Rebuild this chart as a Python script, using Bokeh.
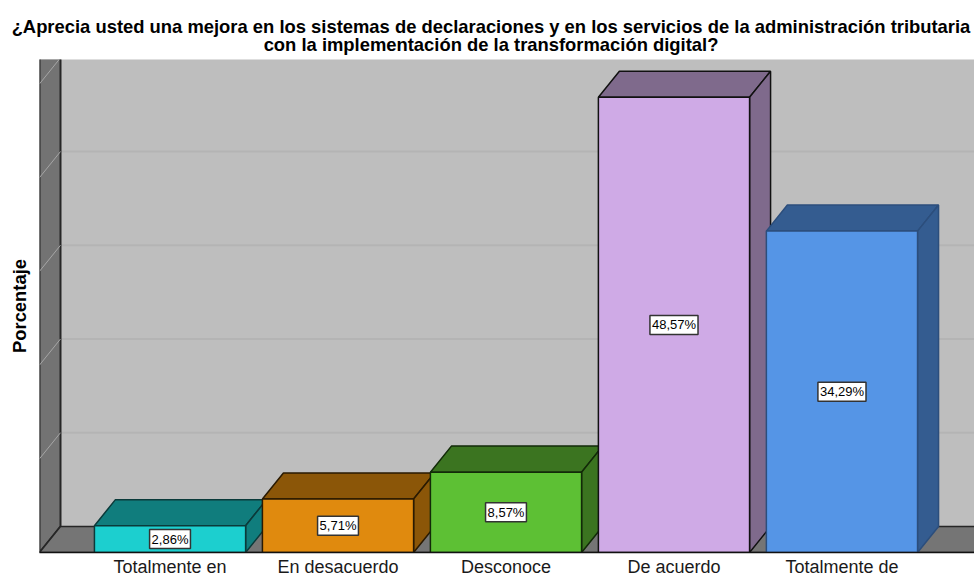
from bokeh.plotting import figure
from bokeh.models import Range1d, Div, FixedTicker
from bokeh.layouts import column
from bokeh.core.properties import value
from bokeh.embed import file_html
from bokeh.resources import INLINE

title_line1 = "¿Aprecia usted una mejora en los sistemas de declaraciones y en los servicios de la administración tributaria"
title_line2 = "con la implementación de la transformación digital?"
y_label = "Porcentaje"
categories = ["Totalmente en", "En desacuerdo", "Desconoce", "De acuerdo", "Totalmente de"]
values = [2.86, 5.71, 8.57, 48.57, 34.29]
labels = ["2,86%", "5,71%", "8,57%", "48,57%", "34,29%"]
front_colors = ["#1CCFCF", "#E08A0E", "#5DC034", "#CFAAE6", "#5595E6"]
dark_colors = ["#107D7D", "#8B5608", "#3B7420", "#7F6A8C", "#345C90"]
edge_colors = ["#0B3A3A", "#2A1A02", "#122A08", "#111111", "#2C4E7C"]
grid_values = [10, 20, 30, 40, 50]

# depth of the 3D effect, category units / percent units
dx = 0.125
dy = 2.78
half = 0.45
x_min, x_max = -0.777, 4.789
y_min, y_max = 0.0, 52.6
wall_x = x_min + dx

title = Div(text=f'<div style="margin-left:8px;width:966px;padding-top:18px;text-align:center;'
                 f'font-family:\'Liberation Sans\';font-size:18.4px;font-weight:bold;line-height:17.5px;'
                 f'color:black;white-space:nowrap">{title_line1}<br>{title_line2}</div>',
            width=974, height=59, margin=(0, 0, 0, 0))

p = figure(width=974, height=520, output_backend="svg", toolbar_location=None,
           x_range=Range1d(x_min, x_max), y_range=Range1d(y_min, y_max),
           min_border_left=39, min_border_right=0, min_border_top=0, min_border_bottom=27,
           background_fill_color="#BEBEBE", border_fill_color="white", outline_line_color=None,
           margin=(0, 0, 0, 0))
p.grid.visible = False

# back-wall grid lines
p.segment(x0=[wall_x] * 5, x1=[x_max] * 5, y0=[g + dy for g in grid_values], y1=[g + dy for g in grid_values],
          line_color="#B4B4B4", line_width=2)

# left wall
p.patch(x=[x_min, wall_x, wall_x, x_min], y=[0, dy, y_max + dy, y_max + dy],
        fill_color="#737373", line_color="#262626", line_width=2)
p.segment(x0=[x_min] * 5, x1=[wall_x] * 5, y0=grid_values, y1=[g + dy for g in grid_values],
          line_color="#A6A6A6", line_width=1)

# floor
p.patch(x=[x_min, wall_x, x_max + dx, x_max], y=[0, dy, dy, 0],
        fill_color="#757575", line_color="#262626", line_width=1.5)

# bars
for i, v in enumerate(values):
    l, r = i - half, i + half
    p.patch(x=[l, l + dx, r + dx, r], y=[v, v + dy, v + dy, v],
            fill_color=dark_colors[i], line_color=edge_colors[i], line_width=1.5)
    p.patch(x=[r, r + dx, r + dx, r], y=[0, dy, v + dy, v],
            fill_color=dark_colors[i], line_color=edge_colors[i], line_width=1.5)
    p.quad(left=l, right=r, bottom=0, top=v,
           fill_color=front_colors[i], line_color=edge_colors[i], line_width=1.5)

# value labels
p.text(x=list(range(5)), y=[v / 2 for v in values], text=labels, text_align="center",
       text_baseline="middle", text_font=value("Liberation Sans"), text_font_size="13px",
       text_color="black", background_fill_color="white", border_line_color="#333333",
       border_line_width=1.5, padding=2)

# axes
xa = p.xaxis[0]
xa.ticker = FixedTicker(ticks=list(range(5)))
xa.major_label_overrides = {i: c for i, c in enumerate(categories)}
xa.major_label_text_font = "Liberation Sans"
xa.major_label_text_font_size = "18px"
xa.major_label_text_color = "#1a1a1a"
xa.major_tick_line_color = None
xa.major_tick_out = 0
xa.major_tick_in = 0
xa.minor_tick_line_color = None
xa.minor_tick_out = 0
xa.axis_line_color = "#111111"
xa.axis_line_width = 1.5
xa.major_label_standoff = 4

ya = p.yaxis[0]
ya.ticker = FixedTicker(ticks=[])
ya.axis_label = y_label
ya.axis_label_text_font = "Liberation Sans"
ya.axis_label_text_font_size = "18.4px"
ya.axis_label_text_font_style = "bold"
ya.axis_label_text_color = "black"
ya.axis_label_standoff = 10
ya.major_label_standoff = 0
ya.major_tick_line_color = None
ya.minor_tick_line_color = None
ya.axis_line_color = None

page = column(title, p, spacing=0, margin=(0, 0, 0, 0))
open("out.html", "w").write(file_html(page, INLINE))
